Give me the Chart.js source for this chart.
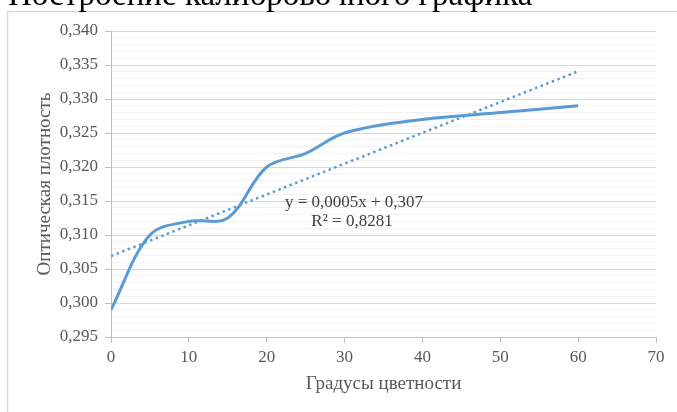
<!DOCTYPE html>
<html>
<head>
<meta charset="utf-8">
<script src="https://cdn.jsdelivr.net/npm/chart.js@4"></script>
<style>
  html, body { margin: 0; padding: 0; background: #fff; }
  #wrap { width: 677px; height: 412px; position: relative; }
</style>
</head>
<body>
<div id="wrap"><canvas id="chart_calibration"></canvas></div>
<script>
// градусы цветности / оптическая плотность
const degrees = [0, 5, 10, 15, 20, 25, 30, 40, 50, 60];
const density = [0.299, 0.310, 0.312, 0.3125, 0.320, 0.322, 0.325, 0.327, 0.328, 0.329];
const trendRange = [0, 60];
const titleText = 'Построение калибровочного графика';
const equationLines = ['y = 0,0005x + 0,307', 'R² = 0,8281'];

let serif = "'Liberation Serif', 'Times New Roman', serif";
let blue = '#5b9bd5';

// linear least squares for the trend line
let n = degrees.length;
let mx = degrees.reduce((a, b) => a + b, 0) / n;
let my = density.reduce((a, b) => a + b, 0) / n;
let sxy = 0, sxx = 0;
degrees.forEach((x, i) => { sxy += (x - mx) * (density[i] - my); sxx += (x - mx) * (x - mx); });
let slope = sxy / sxx;
let intercept = my - slope * mx;
let trend = trendRange.map(x => ({ x: x, y: intercept + slope * x }));

let isMajor = v => Math.round(v * 1000) % 5 === 0;

let decor = {
  id: 'decor',
  beforeDraw(chart) {
    let ctx = chart.ctx;
    ctx.save();
    ctx.strokeStyle = '#d9d9d9';
    ctx.lineWidth = 1.5;
    ctx.strokeRect(7.5, 11.5, 720, 450);
    ctx.fillStyle = '#000';
    ctx.font = "33px " + serif;
    ctx.textBaseline = 'alphabetic';
    ctx.textAlign = 'left';
    ctx.fillText(titleText, 8, 5);
    ctx.restore();
  },
  afterDatasetsDraw(chart) {
    let ctx = chart.ctx;
    ctx.save();
    ctx.fillStyle = '#404040';
    ctx.font = "17px " + serif;
    ctx.textAlign = 'center';
    ctx.textBaseline = 'middle';
    ctx.fillText(equationLines[0], 354, 203);
    ctx.fillText(equationLines[1], 352, 222);
    ctx.restore();
  }
};

let data = {
  datasets: [
    {
      data: degrees.map((x, i) => ({ x: x, y: density[i] })),
      borderColor: blue,
      borderWidth: 3,
      pointRadius: 0,
      tension: 0.35,
      fill: false
    },
    {
      data: trend,
      borderColor: blue,
      borderWidth: 2.5,
      borderDash: [2.5, 3.5],
      pointRadius: 0,
      fill: false
    }
  ]
};

let options = {
  responsive: false,
  animation: false,
  layout: { padding: { top: 31, right: 21, left: 30, bottom: 13 } },
  plugins: { legend: { display: false }, tooltip: { enabled: false } },
  scales: {
    x: {
      type: 'linear',
      min: 0,
      max: 70,
      afterFit: s => { s.height = 62; },
      ticks: { stepSize: 10, color: '#595959', font: { family: serif, size: 17 }, padding: 4 },
      grid: { drawOnChartArea: false, tickLength: 6, color: '#bfbfbf' },
      border: { color: '#bfbfbf', width: 1 },
      title: { display: true, text: 'Градусы цветности', color: '#595959', font: { family: serif, size: 19 }, padding: { top: 2 } }
    },
    y: {
      min: 0.295,
      max: 0.340,
      afterFit: s => { s.width = 81; },
      ticks: {
        stepSize: 0.001,
        autoSkip: false,
        color: '#595959',
        font: { family: serif, size: 17 },
        padding: 7,
        callback: v => isMajor(v) ? v.toFixed(3).replace('.', ',') : ''
      },
      grid: {
        tickLength: 6,
        color: ctx => isMajor(ctx.tick.value) ? '#d9d9d9' : '#f2f2f2',
        tickColor: ctx => isMajor(ctx.tick.value) ? '#bfbfbf' : 'rgba(0,0,0,0)',
        lineWidth: 1
      },
      border: { color: '#bfbfbf', width: 1 },
      title: { display: true, text: 'Оптическая плотность', color: '#595959', font: { family: serif, size: 19 }, padding: { bottom: 2 } }
    }
  }
};

let canvas = document.getElementById('chart_calibration');
canvas.width = 677;
canvas.height = 412;
new Chart(canvas, { type: 'line', plugins: [decor], data, options });
</script>
</body>
</html>
